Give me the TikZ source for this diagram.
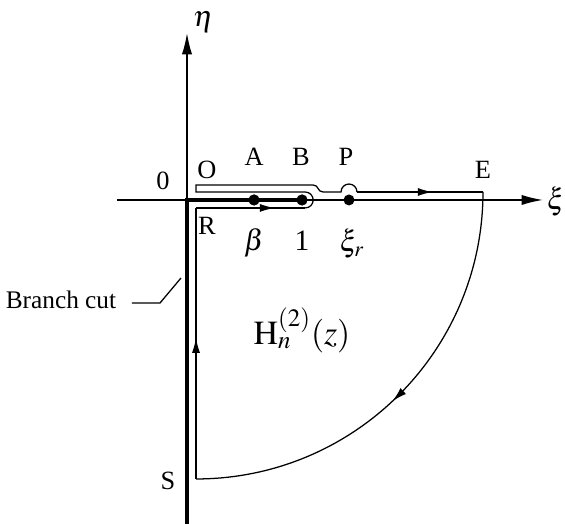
\documentclass[tikz,border=0pt]{standalone}
\usepackage{mathptmx}
\usepackage[no-math]{fontspec}
\setmainfont{Liberation Serif}
\usetikzlibrary{arrows.meta,decorations.markings}

\begin{document}
\begin{tikzpicture}[
    axis/.style={line width=0.6pt, -{Latex[length=10pt,width=4.8pt]}},
    cut/.style={line width=2pt},
    contour/.style={line width=0.6pt},
    point/.style={circle, fill=black, inner sep=0pt, minimum size=5.2pt},
    mid arrow/.style={postaction={decorate}, decoration={markings,
        mark=at position #1 with {\arrow{Latex[length=7pt,width=3.8pt]}}}},
    pt label/.style={font=\fontsize{12.5}{14}\selectfont},
    math label/.style={font=\fontsize{14}{16}\selectfont}
]
    \useasboundingbox (-3.117,-5.4) rectangle (6.3,3.333);

    % axes
    \coordinate (origin) at (0,0);
    \coordinate (xi-start) at (-1.167,0);
    \coordinate (xi-end) at (5.93,0);
    \coordinate (eta-end) at (0,2.78);
    \draw[axis] (xi-start) -- (xi-end);
    \draw[axis] (origin) -- (eta-end);
    \node[math label, inner sep=1pt] (xi) at (6.15,-0.03) {$\xi$};
    \node[math label, inner sep=1pt] (eta) at (0.27,2.96) {$\eta$};

    % branch cut and points
    \coordinate (cut-end) at (0,-5.5);
    \node[point] (A) at (1.117,0) {};
    \node[point] (B) at (1.917,0) {};
    \node[point] (P) at (2.7,0) {};
    \draw[cut] (cut-end) -- (origin) -- (B.center);
    \node[point] at (A) {};
    \node[point] at (B) {};

    % contour
    \coordinate (S) at (0.15,-4.65);
    \coordinate (R) at (0.15,-0.133);
    \coordinate (E) at (4.933,0.133);
    \coordinate (Bl) at (1.97,-0.133);
    \coordinate (Pr) at (2.833,0.133);
    \draw[contour, mid arrow=0.52] (S) -- (R);
    \draw[contour, mid arrow=0.72] (R) -- (Bl);
    \draw[contour] (Bl) arc[start angle=-90, end angle=90, radius=0.133]
        -- (0.15,0.133) -- (0.15,0.25) -- (2.1,0.25)
        .. controls (2.2,0.25) and (2.17,0.133) .. (2.267,0.133)
        -- (2.567,0.133) arc[start angle=180, end angle=0, radius=0.133];
    \draw[contour, mid arrow=0.6] (Pr) -- (E);
    \draw[contour, mid arrow=0.52] (E) arc[start angle=0, end angle=-90, radius=4.783];

    % labels
    \node[pt label] (zero) at (-0.4,0.317) {0};
    \node[pt label] (O) at (0.333,0.5) {O};
    \node[pt label] (A-lab) at (1.117,0.717) {A};
    \node[pt label] (B-lab) at (1.9,0.717) {B};
    \node[pt label] (P-lab) at (2.65,0.717) {P};
    \node[pt label] (E-lab) at (4.933,0.5) {E};
    \node[pt label] (R-lab) at (0.333,-0.433) {R};
    \node[pt label] (S-lab) at (-0.317,-4.683) {S};
    \node[math label] (beta) at (1.117,-0.717) {$\beta$};
    \node[math label] (one) at (1.917,-0.683) {1};
    \node[math label] (xir) at (2.75,-0.73) {$\xi_r$};
    \node[font=\fontsize{16}{19}\selectfont] (hankel) at (1.917,-2.167) {$\mathrm{H}_n^{(2)}(z)$};

    % branch cut leader
    \node[font=\fontsize{12}{14}\selectfont] (bc) at (-2.1,-1.667) {Branch cut};
    \coordinate (l1) at (-0.917,-1.717);
    \coordinate (l2) at (-0.45,-1.717);
    \coordinate (l3) at (-0.1,-1.3);
    \draw[contour] (l1) -- (l2) -- (l3);
\end{tikzpicture}
\end{document}
